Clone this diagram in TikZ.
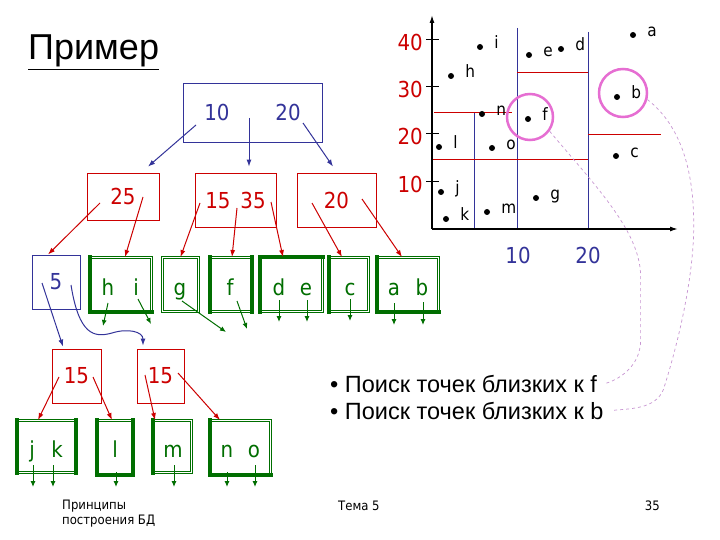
\documentclass[tikz,border=0pt]{standalone}
\usepackage{fontspec}
\setmainfont{DejaVu Sans Condensed}
\newfontfamily\arialfont{Liberation Sans}
\usepackage{tikz}
\usetikzlibrary{arrows.meta}

\definecolor{treeblue}{RGB}{51,51,153}
\definecolor{treered}{RGB}{204,0,0}
\definecolor{treegreen}{RGB}{0,110,0}
\definecolor{hitpink}{RGB}{230,110,210}
\definecolor{linkpink}{RGB}{200,150,210}

\begin{document}
\begin{tikzpicture}[
    x=1pt, y=-1pt,
    keyfont/.style={font=\fontsize{22}{26}\selectfont, inner sep=0pt},
    bluebox/.style={keyfont, draw=treeblue, text=treeblue, line width=0.9pt},
    redbox/.style={keyfont, draw=treered, text=treered, line width=0.8pt},
    leafbox/.style={draw=treegreen, double, line width=0.9pt, double distance=1.4pt, inner sep=0pt},
    heavy/.style={draw=treegreen, line width=3.2pt, line cap=rect},
    leaf/.style={keyfont, text=treegreen, anchor=base},
    bluearrow/.style={-{Latex[length=7pt,width=5pt]}, treeblue, line width=1pt},
    redarrow/.style={-{Latex[length=7pt,width=5pt]}, treered, line width=1pt},
    greenarrow/.style={-{Latex[length=6pt,width=5pt]}, treegreen, line width=1pt},
    axisline/.style={-{Latex[length=8pt,width=5pt]}, line width=1.4pt},
    tickmark/.style={line width=1pt},
    ylab/.style={font=\fontsize{22}{26}\selectfont, text=treered, anchor=east, inner sep=0pt},
    xlab/.style={font=\fontsize{22}{26}\selectfont, text=treeblue, inner sep=0pt},
    ptdot/.style={circle, fill=black, inner sep=0pt, minimum size=6pt},
    ptlabel/.style={font=\fontsize{17}{20}\selectfont, inner sep=0pt, text height=12pt, text depth=0pt, xshift=11pt, yshift=4.5pt},
    hit/.style={circle, draw=hitpink, line width=2.5pt, inner sep=0pt},
    link/.style={draw=linkpink, dashed, line width=0.7pt},
    bullet/.style={font=\arialfont\fontsize{23.5}{28}\selectfont, inner sep=0pt, anchor=base west},
    foot/.style={font=\fontsize{13}{15}\selectfont, inner sep=0pt}
]
    \useasboundingbox[fill=white] (0,0) rectangle (720,540);

    % Title
    \node[font=\arialfont\fontsize{36}{40}\selectfont, inner sep=0pt, anchor=base west] (ttl) at (28,60) {\underline{Пример}};

    % Root
    \node[bluebox, minimum width=139pt, minimum height=59pt] (root) at (252.5,112.5) {10\hspace{46pt}20};

    % Second level
    \node[redbox, minimum width=72pt, minimum height=47pt] (n25) at (123,196.5) {25};
    \node[redbox, minimum width=81pt, minimum height=54pt] (n1535) at (235.5,200) {15\hspace{10pt}35};
    \node[redbox, minimum width=79pt, minimum height=54pt] (n20) at (336.5,200) {20};

    % Third level
    \node[bluebox, minimum width=48pt, minimum height=54pt] (n5) at (56,282) {5};
    \node[leafbox, minimum width=61pt, minimum height=54pt] (lhi) at (121,284.5) {};
    \node[leafbox, minimum width=36pt, minimum height=54pt] (lg) at (180.5,284.5) {};
    \node[leafbox, minimum width=41pt, minimum height=54pt] (lf) at (231,284.5) {};
    \node[leafbox, minimum width=62pt, minimum height=54pt] (lde) at (291.5,284.5) {};
    \node[leafbox, minimum width=39pt, minimum height=54pt] (lc) at (349,284.5) {};
    \node[leafbox, minimum width=61pt, minimum height=54pt] (lab) at (408,284.5) {};

    \draw[heavy] (lhi.north west) -- (lhi.south west) -- (lhi.south east);
    \draw[heavy] (lf.north west) -- (lf.south west);
    \draw[heavy] (lf.north east) -- (lf.south east);
    \draw[heavy] (lde.south west) -- (lde.north west) -- (lde.north east);
    \draw[heavy] (lc.north west) -- (lc.south west);
    \draw[heavy] (lab.north west) -- (lab.south west) -- (lab.south east);

    \node[leaf] (h) at (108,295) {h};
    \node[leaf] (i) at (136,295) {i};
    \node[leaf] (g) at (180,295) {g};
    \node[leaf] (f) at (230,295) {f};
    \node[leaf] (d) at (279,295) {d};
    \node[leaf] (e) at (306,295) {e};
    \node[leaf] (c) at (350,295) {c};
    \node[leaf] (a) at (394,295) {a};
    \node[leaf] (b) at (422,295) {b};

    % Fourth level
    \node[redbox, minimum width=49pt, minimum height=54pt] (n15a) at (76.5,376) {15};
    \node[redbox, minimum width=47pt, minimum height=54pt] (n15b) at (160.5,376) {15};

    % Fifth level
    \node[leafbox, minimum width=58pt, minimum height=52pt] (ljk) at (46.5,446.5) {};
    \node[leafbox, minimum width=35pt, minimum height=54pt] (ll) at (115,447.5) {};
    \node[leafbox, minimum width=38pt, minimum height=52pt] (lm) at (172.5,446.5) {};
    \node[leafbox, minimum width=60pt, minimum height=54pt] (lno) at (240.5,447.5) {};

    \draw[heavy] (ljk.north west) -- (ljk.south west);
    \draw[heavy] (ljk.north east) -- (ljk.south east);
    \draw[heavy] (ll.north west) -- (ll.south west) -- (ll.south east) -- (ll.north east);
    \draw[heavy] (lm.north west) -- (lm.south west);
    \draw[heavy] (lno.north west) -- (lno.south west) -- (lno.south east);

    \node[leaf] (j) at (32,457) {j};
    \node[leaf] (k) at (57,457) {k};
    \node[leaf] (l) at (115,457) {l};
    \node[leaf] (m) at (173,457) {m};
    \node[leaf] (n) at (227,457) {n};
    \node[leaf] (o) at (254,457) {o};

    % Arrows
    \draw[bluearrow] ([shift={(-56.5,12.5)}]root.center) -- ([shift={(25,-6)}]n25.north);
    \draw[bluearrow] ([shift={(-3.5,5.5)}]root.center) -- ([shift={(13.5,-6)}]n1535.north);
    \draw[bluearrow] ([shift={(50.5,10.5)}]root.center) -- ([shift={(-3.5,-6)}]n20.north);

    \draw[redarrow] ([shift={(-23,6.5)}]n25.center) -- ([xshift=-8pt]n5.north);
    \draw[redarrow] ([shift={(20,0.5)}]n25.center) -- ([xshift=4pt]lhi.north);
    \draw[redarrow] ([shift={(-35.5,3)}]n1535.center) -- (lg.north);
    \draw[redarrow] ([shift={(1.5,8)}]n1535.center) -- ([xshift=1pt]lf.north);
    \draw[redarrow] ([shift={(35.5,2)}]n1535.center) -- ([xshift=-8.5pt]lde.north);
    \draw[redarrow] ([shift={(-24.5,3)}]n20.center) -- ([xshift=-7pt]lc.north);
    \draw[redarrow] ([shift={(25.5,-1)}]n20.center) -- ([xshift=-6pt]lab.north);

    \draw[bluearrow] ([shift={(-14,1)}]n5.center) -- ([shift={(-13.5,-2)}]n15a.north);
    \draw[bluearrow] ([shift={(15,3)}]n5.center) .. controls +(8,50) and +(-18,5) .. ++(41,48)
        .. controls +(16,-5) and +(0,-14) .. ([shift={(-17.5,-3)}]n15b.north);

    \draw[redarrow] ([shift={(-17.5,1)}]n15a.center) -- ([xshift=-8.5pt]ljk.north);
    \draw[redarrow] ([shift={(16.5,1)}]n15a.center) -- ([xshift=-3pt]ll.north);
    \draw[redarrow] ([shift={(-15.5,-1)}]n15b.center) -- ([xshift=-17.5pt]lm.north);
    \draw[redarrow] ([shift={(17.5,-3)}]n15b.center) -- ([xshift=-20.5pt]lno.north);

    \draw[greenarrow] ([shift={(0,8)}]h.base) -- ++(-5,23);
    \draw[greenarrow] ([shift={(2,4)}]i.base) -- ++(13,25);
    \draw[greenarrow] ([shift={(2,6)}]g.base) -- ++(44,31);
    \draw[greenarrow] ([shift={(7,6)}]f.base) -- ++(10,28);
    \draw[greenarrow] ([shift={(0,5)}]d.base) -- ++(0,22);
    \draw[greenarrow] ([shift={(1,5)}]e.base) -- ++(0,22);
    \draw[greenarrow] ([shift={(0,4)}]c.base) -- ++(0,22);
    \draw[greenarrow] ([shift={(0,8)}]a.base) -- ++(0,22);
    \draw[greenarrow] ([shift={(1,7)}]b.base) -- ++(0,23);
    \draw[greenarrow] ([shift={(1,8)}]j.base) -- ++(0,22);
    \draw[greenarrow] ([shift={(-4,8)}]k.base) -- ++(0,22);
    \draw[greenarrow] ([shift={(1,15)}]l.base) -- ++(0,15);
    \draw[greenarrow] ([shift={(1,8)}]m.base) -- ++(0,22);
    \draw[greenarrow] ([shift={(0,15)}]n.base) -- ++(0,15);
    \draw[greenarrow] ([shift={(1,8)}]o.base) -- ++(0,22);

    % Plot
    \coordinate (orig) at (432,229);
    \draw[treeblue, line width=1pt] (517,28) -- (517,229);
    \draw[treeblue, line width=1pt] (588,32) -- (588,229);
    \draw[treeblue, line width=1pt] (474,113) -- (474,229);
    \draw[treered, line width=1pt] (434,113) -- (512,113);
    \draw[treered, line width=1pt] (433,160) -- (588,160);
    \draw[treered, line width=1pt] (517,73) -- (588,73);
    \draw[treered, line width=1pt] (588,135) -- (661,135);
    \draw[axisline] (orig) -- (432,15);
    \draw[axisline] (orig) -- (678,229);

    \draw[tickmark] (426,40) -- (439,40);
    \draw[tickmark] (426,87) -- (439,87);
    \draw[tickmark] (426,134) -- (439,134);
    \draw[tickmark] (426,182) -- (439,182);
    \node[ylab] (y40) at (423,42.5) {40};
    \node[ylab] (y30) at (423,89) {30};
    \node[ylab] (y20) at (423,136) {20};
    \node[ylab] (y10) at (423,184) {10};
    \node[xlab] (x10) at (518,255) {10};
    \node[xlab] (x20) at (588,255) {20};

    \node[ptdot, label={[ptlabel]right:a}] (pa) at (633,35) {};
    \node[ptdot, label={[ptlabel]right:b}] (pb) at (617,97) {};
    \node[ptdot, label={[ptlabel]right:c}] (pc) at (616,156) {};
    \node[ptdot, label={[ptlabel]right:d}] (pd) at (561,49) {};
    \node[ptdot, label={[ptlabel]right:e}] (pe) at (529,55) {};
    \node[ptdot, label={[ptlabel]right:f}] (pf) at (528,119) {};
    \node[ptdot, label={[ptlabel]right:g}] (pg) at (536,198) {};
    \node[ptdot, label={[ptlabel]right:h}] (ph) at (451,76) {};
    \node[ptdot, label={[ptlabel]right:i}] (pi) at (480,47) {};
    \node[ptdot, label={[ptlabel]right:j}] (pj) at (441,192) {};
    \node[ptdot, label={[ptlabel]right:k}] (pk) at (446,219) {};
    \node[ptdot, label={[ptlabel]right:l}] (pl) at (439,147) {};
    \node[ptdot, label={[ptlabel]right:m}] (pm) at (487,212) {};
    \node[ptdot, label={[ptlabel]right:n}] (pn) at (482,114) {};
    \node[ptdot, label={[ptlabel]right:o}] (po) at (492,148) {};

    \node[hit, minimum size=46pt] (cf) at (530,117) {};
    \node[hit, minimum size=48pt] (cb) at (623,93) {};

    % Queries
    \node[bullet] (q1) at (330,392) {• Поиск точек близких к f};
    \node[bullet] (q2) at (330,419) {• Поиск точек близких к b};

    \draw[link] (cf.-36) .. controls +(48,57) and +(1,-45) .. ++(91,147) -- ++(0,62)
        .. controls +(0,25) and +(15,-4) .. ([xshift=8pt]q1.east);
    \draw[link] (cb.-15) .. controls +(32,25) and +(3,-70) .. ++(46,140)
        .. controls +(-3,60) and +(8,-25) .. ++(-30,150)
        .. controls +(-8,20) and +(18,-2) .. ([xshift=8pt]q2.east);

    % Footer
    \node[foot, anchor=north west, align=left] (src) at (62,500) {Принципы\\построения БД};
    \node[foot, anchor=base west] (topic) at (338,510) {Тема 5};
    \node[foot, anchor=base east] (page) at (660,510) {35};
\end{tikzpicture}
\end{document}
